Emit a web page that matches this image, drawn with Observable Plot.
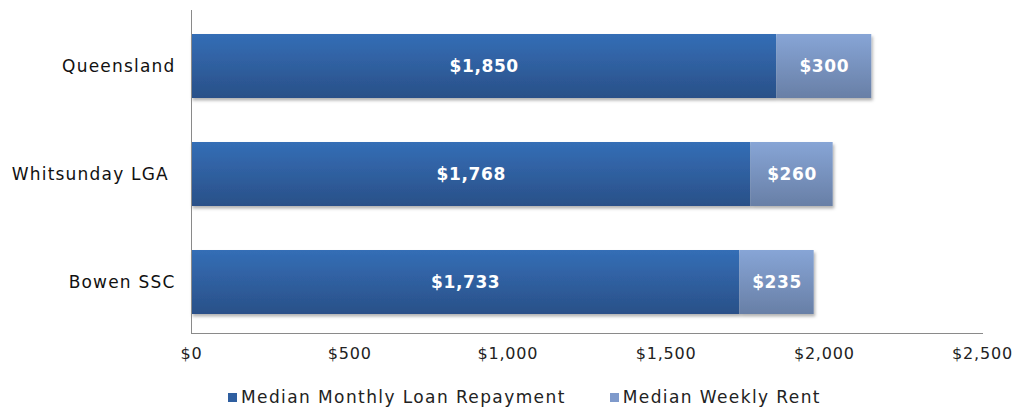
<!DOCTYPE html>
<html>
<head>
<meta charset="utf-8">
<script src="https://cdn.jsdelivr.net/npm/d3@7"></script>
<script src="https://cdn.jsdelivr.net/npm/@observablehq/plot@0.6"></script>
<style>
  body { margin: 0; background: #fff; font-family: "DejaVu Sans", sans-serif; }
  #legend { display: flex; gap: 44px; padding-left: 228px; margin-top: 15px; font-size: 17px; letter-spacing: 1.4px; color: #222; }
  #legend .item { display: flex; align-items: center; gap: 4px; }
  #legend .sw { width: 9px; height: 9px; display: inline-block; }
</style>
</head>
<body>
<div id="chart"></div>
<div id="legend"></div>
<script>
const categories = ["Queensland", "Whitsunday LGA ", "Bowen SSC"];
const loanRepayment = [1850, 1768, 1733];
const weeklyRent = [300, 260, 235];
const seriesNames = ["Median Monthly Loan Repayment", "Median Weekly Rent"];
const xTicks = [0, 500, 1000, 1500, 2000, 2500];

const rows = [];
categories.forEach((c, i) => {
  rows.push({cat: c, series: seriesNames[0], value: loanRepayment[i]});
  rows.push({cat: c, series: seriesNames[1], value: weeklyRent[i]});
});

const fmt = v => "$" + d3.format(",")(v);

const chart = Plot.plot({
  width: 1019,
  height: 372,
  marginLeft: 191,
  marginRight: 37,
  marginTop: 10,
  marginBottom: 39,
  style: {fontFamily: "DejaVu Sans, sans-serif", fontSize: "16px", color: "#222", background: "#fff"},
  x: {domain: [0, 2500], ticks: xTicks, tickFormat: fmt, tickSize: 0, tickPadding: 14, label: null},
  y: {domain: categories, paddingInner: 0.407, paddingOuter: 0.19, align: 0.56, tickSize: 0, tickPadding: 16, label: null},
  color: {domain: seriesNames, range: ["url(#gDark)", "url(#gLight)"]},
  marks: [
    Plot.barX(rows, Plot.stackX({x: "value", y: "cat", z: "series", fill: "series", className: "bars"})),
    Plot.text(rows, Plot.stackX({x: "value", y: "cat", z: "series", text: d => fmt(d.value), fill: "white", fontSize: 17, fontWeight: "bold", className: "vals"})),
    Plot.ruleX([0], {stroke: "#8a8a8a"}),
    Plot.frame({anchor: "bottom", stroke: "#8a8a8a"})
  ]
});

// gradient definitions and soft shadow
const svg = d3.select(chart);
const defs = svg.insert("defs", ":first-child");
const g1 = defs.append("linearGradient").attr("id", "gDark").attr("x1", 0).attr("y1", 0).attr("x2", 0).attr("y2", 1);
g1.append("stop").attr("offset", "0%").attr("stop-color", "#346eb6");
g1.append("stop").attr("offset", "100%").attr("stop-color", "#2a5088");
const g2 = defs.append("linearGradient").attr("id", "gLight").attr("x1", 0).attr("y1", 0).attr("x2", 0).attr("y2", 1);
g2.append("stop").attr("offset", "0%").attr("stop-color", "#87a5d6");
g2.append("stop").attr("offset", "100%").attr("stop-color", "#687fa6");
const f = defs.append("filter").attr("id", "shadow").attr("x", "-5%").attr("y", "-20%").attr("width", "110%").attr("height", "150%");
f.append("feDropShadow").attr("dx", 1.5).attr("dy", 2.5).attr("stdDeviation", 1.5).attr("flood-color", "#000").attr("flood-opacity", 0.3);
svg.select("g.bars").attr("filter", "url(#shadow)");
svg.select("g.vals").style("letter-spacing", "0.6px");
svg.selectAll("g[aria-label='y-axis tick label'] text").style("font-size", "17px").style("letter-spacing", "1.2px").style("fill", "#111").style("white-space", "pre");
svg.selectAll("g[aria-label='x-axis tick label'] text").style("font-size", "16px").style("letter-spacing", "0.8px");

document.getElementById("chart").appendChild(chart);

const legend = document.getElementById("legend");
const swatchColors = ["#2f5fa0", "#7f9acb"];
seriesNames.forEach((s, i) => {
  const it = document.createElement("div");
  it.className = "item";
  it.innerHTML = `<span class="sw" style="background:${swatchColors[i]}"></span><span>${s}</span>`;
  legend.appendChild(it);
});
</script>
</body>
</html>
